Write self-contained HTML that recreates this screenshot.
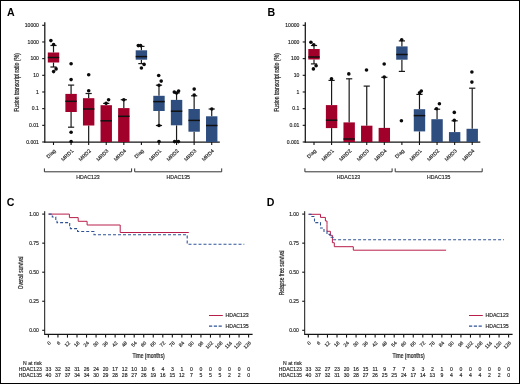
<!DOCTYPE html>
<html><head><meta charset="utf-8"><style>
html,body{margin:0;padding:0;background:#fff;}
svg{display:block;will-change:transform;}
text{fill:#1e1e1e;stroke:#1e1e1e;stroke-width:0.15px;}
text.t{stroke-width:0.22px;}
text.L{fill:#000;stroke:none;}
</style></head><body>
<svg width="520" height="384" viewBox="0 0 520 384" font-family="Liberation Sans, sans-serif" fill="#000">
<rect x="0" y="0" width="520" height="384" fill="#fff"/>
<text x="6.9" y="16.4" class="L" font-size="10.6" font-weight="bold">A</text>
<line x1="44.8" y1="22.2" x2="44.8" y2="142.6" stroke="#141414" stroke-width="1.25"/>
<line x1="42.2" y1="25.3" x2="44.8" y2="25.3" stroke="#141414" stroke-width="1.1"/>
<text x="38.9" y="27.1" font-size="5.1" text-anchor="end" fill="#222">10000</text>
<line x1="42.2" y1="41.97" x2="44.8" y2="41.97" stroke="#141414" stroke-width="1.1"/>
<text x="38.9" y="43.77" font-size="5.1" text-anchor="end" fill="#222">1000</text>
<line x1="42.2" y1="58.64" x2="44.8" y2="58.64" stroke="#141414" stroke-width="1.1"/>
<text x="38.9" y="60.44" font-size="5.1" text-anchor="end" fill="#222">100</text>
<line x1="42.2" y1="75.31" x2="44.8" y2="75.31" stroke="#141414" stroke-width="1.1"/>
<text x="38.9" y="77.11" font-size="5.1" text-anchor="end" fill="#222">10</text>
<line x1="42.2" y1="91.98" x2="44.8" y2="91.98" stroke="#141414" stroke-width="1.1"/>
<text x="38.9" y="93.78" font-size="5.1" text-anchor="end" fill="#222">1</text>
<line x1="42.2" y1="108.65" x2="44.8" y2="108.65" stroke="#141414" stroke-width="1.1"/>
<text x="38.9" y="110.45" font-size="5.1" text-anchor="end" fill="#222">0.1</text>
<line x1="42.2" y1="125.32" x2="44.8" y2="125.32" stroke="#141414" stroke-width="1.1"/>
<text x="38.9" y="127.12" font-size="5.1" text-anchor="end" fill="#222">0.01</text>
<line x1="42.2" y1="141.99" x2="44.8" y2="141.99" stroke="#141414" stroke-width="1.1"/>
<text x="38.9" y="143.79" font-size="5.1" text-anchor="end" fill="#222">0.001</text>
<line x1="44.2" y1="142" x2="219.8" y2="142" stroke="#141414" stroke-width="1.25"/>
<line x1="53.5" y1="142" x2="53.5" y2="145" stroke="#141414" stroke-width="1.1"/>
<text transform="translate(56.1,151.2) rotate(-45)" font-size="5.2" text-anchor="end" fill="#222">Diag</text>
<line x1="71.08" y1="142" x2="71.08" y2="145" stroke="#141414" stroke-width="1.1"/>
<text transform="translate(73.68,151.2) rotate(-45)" font-size="5.2" text-anchor="end" fill="#222">MRD1</text>
<line x1="88.66" y1="142" x2="88.66" y2="145" stroke="#141414" stroke-width="1.1"/>
<text transform="translate(91.26,151.2) rotate(-45)" font-size="5.2" text-anchor="end" fill="#222">MRD2</text>
<line x1="106.24" y1="142" x2="106.24" y2="145" stroke="#141414" stroke-width="1.1"/>
<text transform="translate(108.84,151.2) rotate(-45)" font-size="5.2" text-anchor="end" fill="#222">MRD3</text>
<line x1="123.82" y1="142" x2="123.82" y2="145" stroke="#141414" stroke-width="1.1"/>
<text transform="translate(126.42,151.2) rotate(-45)" font-size="5.2" text-anchor="end" fill="#222">MRD4</text>
<line x1="141.4" y1="142" x2="141.4" y2="145" stroke="#141414" stroke-width="1.1"/>
<text transform="translate(144,151.2) rotate(-45)" font-size="5.2" text-anchor="end" fill="#222">Diag</text>
<line x1="158.98" y1="142" x2="158.98" y2="145" stroke="#141414" stroke-width="1.1"/>
<text transform="translate(161.58,151.2) rotate(-45)" font-size="5.2" text-anchor="end" fill="#222">MRD1</text>
<line x1="176.56" y1="142" x2="176.56" y2="145" stroke="#141414" stroke-width="1.1"/>
<text transform="translate(179.16,151.2) rotate(-45)" font-size="5.2" text-anchor="end" fill="#222">MRD2</text>
<line x1="194.14" y1="142" x2="194.14" y2="145" stroke="#141414" stroke-width="1.1"/>
<text transform="translate(196.74,151.2) rotate(-45)" font-size="5.2" text-anchor="end" fill="#222">MRD3</text>
<line x1="211.72" y1="142" x2="211.72" y2="145" stroke="#141414" stroke-width="1.1"/>
<text transform="translate(214.32,151.2) rotate(-45)" font-size="5.2" text-anchor="end" fill="#222">MRD4</text>
<path d="M44.4,168.4 V171.8 H131.6 V168.4" fill="none" stroke="#333" stroke-width="1"/>
<text x="88" y="179.2" font-size="5.2" text-anchor="middle" fill="#222">HDAC123</text>
<path d="M134.7,168.4 V171.8 H221.7 V168.4" fill="none" stroke="#333" stroke-width="1"/>
<text x="178.3" y="179.2" font-size="5.2" text-anchor="middle" fill="#222">HDAC135</text>
<text transform="translate(18.9,82.5) rotate(-90) scale(0.733,1)" font-size="7" text-anchor="middle" class="t">Fusion transcript ratio (%)</text>
<line x1="53.5" y1="45.5" x2="53.5" y2="52.5" stroke="#1a1a1a" stroke-width="1.2"/>
<line x1="50.4" y1="45.5" x2="56.6" y2="45.5" stroke="#1a1a1a" stroke-width="1.2"/>
<line x1="53.5" y1="62.5" x2="53.5" y2="67" stroke="#1a1a1a" stroke-width="1.2"/>
<line x1="50.4" y1="67" x2="56.6" y2="67" stroke="#1a1a1a" stroke-width="1.2"/>
<rect x="47.8" y="52.5" width="11.4" height="10" fill="#a1002a"/>
<line x1="47.8" y1="57.5" x2="59.2" y2="57.5" stroke="#111" stroke-width="1.5"/>
<circle cx="50.9" cy="40.6" r="1.8" fill="#0a0a0a"/>
<circle cx="53.6" cy="44.5" r="1.8" fill="#0a0a0a"/>
<circle cx="56.1" cy="68.9" r="1.8" fill="#0a0a0a"/>
<circle cx="53.6" cy="71.6" r="1.8" fill="#0a0a0a"/>
<line x1="71.08" y1="85.1" x2="71.08" y2="93.9" stroke="#1a1a1a" stroke-width="1.2"/>
<line x1="67.98" y1="85.1" x2="74.18" y2="85.1" stroke="#1a1a1a" stroke-width="1.2"/>
<line x1="71.08" y1="112" x2="71.08" y2="127.2" stroke="#1a1a1a" stroke-width="1.2"/>
<line x1="67.98" y1="127.2" x2="74.18" y2="127.2" stroke="#1a1a1a" stroke-width="1.2"/>
<rect x="65.38" y="93.9" width="11.4" height="18.1" fill="#a1002a"/>
<line x1="65.38" y1="101.3" x2="76.78" y2="101.3" stroke="#111" stroke-width="1.5"/>
<circle cx="71.1" cy="63.8" r="1.8" fill="#0a0a0a"/>
<circle cx="71.1" cy="79.6" r="1.8" fill="#0a0a0a"/>
<circle cx="71.1" cy="132.3" r="1.8" fill="#0a0a0a"/>
<circle cx="71.1" cy="141.5" r="1.8" fill="#0a0a0a"/>
<line x1="88.66" y1="93.5" x2="88.66" y2="98.2" stroke="#1a1a1a" stroke-width="1.2"/>
<line x1="85.56" y1="93.5" x2="91.76" y2="93.5" stroke="#1a1a1a" stroke-width="1.2"/>
<line x1="88.66" y1="125.5" x2="88.66" y2="142" stroke="#1a1a1a" stroke-width="1.2"/>
<rect x="82.96" y="98.2" width="11.4" height="27.3" fill="#a1002a"/>
<line x1="82.96" y1="109" x2="94.36" y2="109" stroke="#111" stroke-width="1.5"/>
<circle cx="88.7" cy="74.7" r="1.8" fill="#0a0a0a"/>
<circle cx="88.7" cy="90.8" r="1.8" fill="#0a0a0a"/>
<line x1="106.24" y1="103.4" x2="106.24" y2="105.2" stroke="#1a1a1a" stroke-width="1.2"/>
<line x1="103.14" y1="103.4" x2="109.34" y2="103.4" stroke="#1a1a1a" stroke-width="1.2"/>
<rect x="100.54" y="105.2" width="11.4" height="36.8" fill="#a1002a"/>
<line x1="100.54" y1="120.8" x2="111.94" y2="120.8" stroke="#111" stroke-width="1.5"/>
<circle cx="108.6" cy="99.7" r="1.8" fill="#0a0a0a"/>
<circle cx="106.1" cy="103.2" r="1.8" fill="#0a0a0a"/>
<line x1="123.82" y1="99.7" x2="123.82" y2="108.1" stroke="#1a1a1a" stroke-width="1.2"/>
<line x1="120.72" y1="99.7" x2="126.92" y2="99.7" stroke="#1a1a1a" stroke-width="1.2"/>
<rect x="118.12" y="108.1" width="11.4" height="33.9" fill="#a1002a"/>
<line x1="118.12" y1="116.3" x2="129.52" y2="116.3" stroke="#111" stroke-width="1.5"/>
<circle cx="123.8" cy="99.7" r="1.8" fill="#0a0a0a"/>
<line x1="141.4" y1="46.4" x2="141.4" y2="50.3" stroke="#1a1a1a" stroke-width="1.2"/>
<line x1="138.3" y1="46.4" x2="144.5" y2="46.4" stroke="#1a1a1a" stroke-width="1.2"/>
<line x1="141.4" y1="59.7" x2="141.4" y2="63.6" stroke="#1a1a1a" stroke-width="1.2"/>
<line x1="138.3" y1="63.6" x2="144.5" y2="63.6" stroke="#1a1a1a" stroke-width="1.2"/>
<rect x="135.7" y="50.3" width="11.4" height="9.4" fill="#2e4e7f"/>
<line x1="135.7" y1="56.6" x2="147.1" y2="56.6" stroke="#111" stroke-width="1.5"/>
<circle cx="138.3" cy="45.6" r="1.8" fill="#0a0a0a"/>
<circle cx="140.6" cy="45.6" r="1.8" fill="#0a0a0a"/>
<circle cx="144.1" cy="64.4" r="1.8" fill="#0a0a0a"/>
<circle cx="141.4" cy="68" r="1.8" fill="#0a0a0a"/>
<line x1="158.98" y1="85.2" x2="158.98" y2="95.8" stroke="#1a1a1a" stroke-width="1.2"/>
<line x1="155.88" y1="85.2" x2="162.08" y2="85.2" stroke="#1a1a1a" stroke-width="1.2"/>
<line x1="158.98" y1="111" x2="158.98" y2="125.5" stroke="#1a1a1a" stroke-width="1.2"/>
<line x1="155.88" y1="125.5" x2="162.08" y2="125.5" stroke="#1a1a1a" stroke-width="1.2"/>
<rect x="153.28" y="95.8" width="11.4" height="15.2" fill="#2e4e7f"/>
<line x1="153.28" y1="101.6" x2="164.68" y2="101.6" stroke="#111" stroke-width="1.5"/>
<circle cx="158.7" cy="75.5" r="1.8" fill="#0a0a0a"/>
<circle cx="161.2" cy="81.1" r="1.8" fill="#0a0a0a"/>
<circle cx="159" cy="85.2" r="1.8" fill="#0a0a0a"/>
<circle cx="159" cy="125.5" r="1.8" fill="#0a0a0a"/>
<circle cx="159" cy="141.6" r="1.8" fill="#0a0a0a"/>
<line x1="176.56" y1="93" x2="176.56" y2="99.9" stroke="#1a1a1a" stroke-width="1.2"/>
<line x1="173.46" y1="93" x2="179.66" y2="93" stroke="#1a1a1a" stroke-width="1.2"/>
<line x1="176.56" y1="125.3" x2="176.56" y2="142" stroke="#1a1a1a" stroke-width="1.2"/>
<rect x="170.86" y="99.9" width="11.4" height="25.4" fill="#2e4e7f"/>
<line x1="170.86" y1="111.2" x2="182.26" y2="111.2" stroke="#111" stroke-width="1.5"/>
<circle cx="174.3" cy="92" r="1.8" fill="#0a0a0a"/>
<circle cx="178.6" cy="91.1" r="1.8" fill="#0a0a0a"/>
<circle cx="176.6" cy="93" r="1.8" fill="#0a0a0a"/>
<circle cx="174.6" cy="141.6" r="1.8" fill="#0a0a0a"/>
<circle cx="178.4" cy="141.6" r="1.8" fill="#0a0a0a"/>
<line x1="194.14" y1="95.8" x2="194.14" y2="109" stroke="#1a1a1a" stroke-width="1.2"/>
<line x1="191.04" y1="95.8" x2="197.24" y2="95.8" stroke="#1a1a1a" stroke-width="1.2"/>
<line x1="194.14" y1="131.7" x2="194.14" y2="142" stroke="#1a1a1a" stroke-width="1.2"/>
<rect x="188.44" y="109" width="11.4" height="22.7" fill="#2e4e7f"/>
<line x1="188.44" y1="120.4" x2="199.84" y2="120.4" stroke="#111" stroke-width="1.5"/>
<circle cx="194.2" cy="89.1" r="1.8" fill="#0a0a0a"/>
<circle cx="194.2" cy="95" r="1.8" fill="#0a0a0a"/>
<line x1="211.72" y1="109" x2="211.72" y2="116.3" stroke="#1a1a1a" stroke-width="1.2"/>
<line x1="208.62" y1="109" x2="214.82" y2="109" stroke="#1a1a1a" stroke-width="1.2"/>
<rect x="206.02" y="116.3" width="11.4" height="25.7" fill="#2e4e7f"/>
<line x1="206.02" y1="125.5" x2="217.42" y2="125.5" stroke="#111" stroke-width="1.5"/>
<circle cx="211.8" cy="109" r="1.8" fill="#0a0a0a"/>
<text x="267.4" y="16.4" class="L" font-size="10.6" font-weight="bold">B</text>
<line x1="305.3" y1="22.2" x2="305.3" y2="142.6" stroke="#141414" stroke-width="1.25"/>
<line x1="302.7" y1="25.3" x2="305.3" y2="25.3" stroke="#141414" stroke-width="1.1"/>
<text x="299.4" y="27.1" font-size="5.1" text-anchor="end" fill="#222">10000</text>
<line x1="302.7" y1="41.97" x2="305.3" y2="41.97" stroke="#141414" stroke-width="1.1"/>
<text x="299.4" y="43.77" font-size="5.1" text-anchor="end" fill="#222">1000</text>
<line x1="302.7" y1="58.64" x2="305.3" y2="58.64" stroke="#141414" stroke-width="1.1"/>
<text x="299.4" y="60.44" font-size="5.1" text-anchor="end" fill="#222">100</text>
<line x1="302.7" y1="75.31" x2="305.3" y2="75.31" stroke="#141414" stroke-width="1.1"/>
<text x="299.4" y="77.11" font-size="5.1" text-anchor="end" fill="#222">10</text>
<line x1="302.7" y1="91.98" x2="305.3" y2="91.98" stroke="#141414" stroke-width="1.1"/>
<text x="299.4" y="93.78" font-size="5.1" text-anchor="end" fill="#222">1</text>
<line x1="302.7" y1="108.65" x2="305.3" y2="108.65" stroke="#141414" stroke-width="1.1"/>
<text x="299.4" y="110.45" font-size="5.1" text-anchor="end" fill="#222">0.1</text>
<line x1="302.7" y1="125.32" x2="305.3" y2="125.32" stroke="#141414" stroke-width="1.1"/>
<text x="299.4" y="127.12" font-size="5.1" text-anchor="end" fill="#222">0.01</text>
<line x1="302.7" y1="141.99" x2="305.3" y2="141.99" stroke="#141414" stroke-width="1.1"/>
<text x="299.4" y="143.79" font-size="5.1" text-anchor="end" fill="#222">0.001</text>
<line x1="304.7" y1="142" x2="480.3" y2="142" stroke="#141414" stroke-width="1.25"/>
<line x1="314" y1="142" x2="314" y2="145" stroke="#141414" stroke-width="1.1"/>
<text transform="translate(316.6,151.2) rotate(-45)" font-size="5.2" text-anchor="end" fill="#222">Diag</text>
<line x1="331.58" y1="142" x2="331.58" y2="145" stroke="#141414" stroke-width="1.1"/>
<text transform="translate(334.18,151.2) rotate(-45)" font-size="5.2" text-anchor="end" fill="#222">MRD1</text>
<line x1="349.16" y1="142" x2="349.16" y2="145" stroke="#141414" stroke-width="1.1"/>
<text transform="translate(351.76,151.2) rotate(-45)" font-size="5.2" text-anchor="end" fill="#222">MRD2</text>
<line x1="366.74" y1="142" x2="366.74" y2="145" stroke="#141414" stroke-width="1.1"/>
<text transform="translate(369.34,151.2) rotate(-45)" font-size="5.2" text-anchor="end" fill="#222">MRD3</text>
<line x1="384.32" y1="142" x2="384.32" y2="145" stroke="#141414" stroke-width="1.1"/>
<text transform="translate(386.92,151.2) rotate(-45)" font-size="5.2" text-anchor="end" fill="#222">MRD4</text>
<line x1="401.9" y1="142" x2="401.9" y2="145" stroke="#141414" stroke-width="1.1"/>
<text transform="translate(404.5,151.2) rotate(-45)" font-size="5.2" text-anchor="end" fill="#222">Diag</text>
<line x1="419.48" y1="142" x2="419.48" y2="145" stroke="#141414" stroke-width="1.1"/>
<text transform="translate(422.08,151.2) rotate(-45)" font-size="5.2" text-anchor="end" fill="#222">MRD1</text>
<line x1="437.06" y1="142" x2="437.06" y2="145" stroke="#141414" stroke-width="1.1"/>
<text transform="translate(439.66,151.2) rotate(-45)" font-size="5.2" text-anchor="end" fill="#222">MRD2</text>
<line x1="454.64" y1="142" x2="454.64" y2="145" stroke="#141414" stroke-width="1.1"/>
<text transform="translate(457.24,151.2) rotate(-45)" font-size="5.2" text-anchor="end" fill="#222">MRD3</text>
<line x1="472.22" y1="142" x2="472.22" y2="145" stroke="#141414" stroke-width="1.1"/>
<text transform="translate(474.82,151.2) rotate(-45)" font-size="5.2" text-anchor="end" fill="#222">MRD4</text>
<path d="M304.9,168.4 V171.8 H392.1 V168.4" fill="none" stroke="#333" stroke-width="1"/>
<text x="348.5" y="179.2" font-size="5.2" text-anchor="middle" fill="#222">HDAC123</text>
<path d="M395.2,168.4 V171.8 H482.2 V168.4" fill="none" stroke="#333" stroke-width="1"/>
<text x="438.8" y="179.2" font-size="5.2" text-anchor="middle" fill="#222">HDAC135</text>
<text transform="translate(279.4,82.5) rotate(-90) scale(0.733,1)" font-size="7" text-anchor="middle" class="t">Fusion transcript ratio (%)</text>
<line x1="314" y1="45.5" x2="314" y2="49" stroke="#1a1a1a" stroke-width="1.2"/>
<line x1="310.9" y1="45.5" x2="317.1" y2="45.5" stroke="#1a1a1a" stroke-width="1.2"/>
<line x1="314" y1="59.5" x2="314" y2="63.9" stroke="#1a1a1a" stroke-width="1.2"/>
<line x1="310.9" y1="63.9" x2="317.1" y2="63.9" stroke="#1a1a1a" stroke-width="1.2"/>
<rect x="308.3" y="49" width="11.4" height="10.5" fill="#a1002a"/>
<line x1="308.3" y1="57" x2="319.7" y2="57" stroke="#111" stroke-width="1.5"/>
<circle cx="310.9" cy="42.3" r="1.8" fill="#0a0a0a"/>
<circle cx="313.75" cy="44.7" r="1.8" fill="#0a0a0a"/>
<circle cx="316.1" cy="65.8" r="1.8" fill="#0a0a0a"/>
<circle cx="313.4" cy="68.9" r="1.8" fill="#0a0a0a"/>
<line x1="331.58" y1="80.4" x2="331.58" y2="105.1" stroke="#1a1a1a" stroke-width="1.2"/>
<line x1="328.48" y1="80.4" x2="334.68" y2="80.4" stroke="#1a1a1a" stroke-width="1.2"/>
<line x1="331.58" y1="128.1" x2="331.58" y2="142" stroke="#1a1a1a" stroke-width="1.2"/>
<rect x="325.88" y="105.1" width="11.4" height="23" fill="#a1002a"/>
<line x1="325.88" y1="120.2" x2="337.28" y2="120.2" stroke="#111" stroke-width="1.5"/>
<circle cx="331.5" cy="78.8" r="1.8" fill="#0a0a0a"/>
<line x1="349.16" y1="78.8" x2="349.16" y2="122.4" stroke="#1a1a1a" stroke-width="1.2"/>
<line x1="346.06" y1="78.8" x2="352.26" y2="78.8" stroke="#1a1a1a" stroke-width="1.2"/>
<rect x="343.46" y="122.4" width="11.4" height="19.6" fill="#a1002a"/>
<line x1="343.46" y1="139" x2="354.86" y2="139" stroke="#111" stroke-width="1.5"/>
<circle cx="348.8" cy="73.9" r="1.8" fill="#0a0a0a"/>
<line x1="366.74" y1="86.1" x2="366.74" y2="125.7" stroke="#1a1a1a" stroke-width="1.2"/>
<line x1="363.64" y1="86.1" x2="369.84" y2="86.1" stroke="#1a1a1a" stroke-width="1.2"/>
<rect x="361.04" y="125.7" width="11.4" height="16.3" fill="#a1002a"/>
<circle cx="366.5" cy="70" r="1.8" fill="#0a0a0a"/>
<line x1="384.32" y1="77.3" x2="384.32" y2="127.9" stroke="#1a1a1a" stroke-width="1.2"/>
<line x1="381.22" y1="77.3" x2="387.42" y2="77.3" stroke="#1a1a1a" stroke-width="1.2"/>
<rect x="378.62" y="127.9" width="11.4" height="14.1" fill="#a1002a"/>
<circle cx="384.2" cy="64" r="1.8" fill="#0a0a0a"/>
<circle cx="384.2" cy="77" r="1.8" fill="#0a0a0a"/>
<line x1="401.9" y1="40.9" x2="401.9" y2="46.4" stroke="#1a1a1a" stroke-width="1.2"/>
<line x1="398.8" y1="40.9" x2="405" y2="40.9" stroke="#1a1a1a" stroke-width="1.2"/>
<line x1="401.9" y1="59.7" x2="401.9" y2="71.4" stroke="#1a1a1a" stroke-width="1.2"/>
<line x1="398.8" y1="71.4" x2="405" y2="71.4" stroke="#1a1a1a" stroke-width="1.2"/>
<rect x="396.2" y="46.4" width="11.4" height="13.3" fill="#2e4e7f"/>
<line x1="396.2" y1="54.5" x2="407.6" y2="54.5" stroke="#111" stroke-width="1.5"/>
<circle cx="401.7" cy="39.7" r="1.8" fill="#0a0a0a"/>
<circle cx="401.4" cy="120.7" r="1.8" fill="#0a0a0a"/>
<line x1="419.48" y1="94.4" x2="419.48" y2="109.2" stroke="#1a1a1a" stroke-width="1.2"/>
<line x1="416.38" y1="94.4" x2="422.58" y2="94.4" stroke="#1a1a1a" stroke-width="1.2"/>
<line x1="419.48" y1="131.4" x2="419.48" y2="142" stroke="#1a1a1a" stroke-width="1.2"/>
<rect x="413.78" y="109.2" width="11.4" height="22.2" fill="#2e4e7f"/>
<line x1="413.78" y1="115.6" x2="425.18" y2="115.6" stroke="#111" stroke-width="1.5"/>
<circle cx="419.6" cy="92.7" r="1.8" fill="#0a0a0a"/>
<circle cx="421.3" cy="91" r="1.8" fill="#0a0a0a"/>
<line x1="437.06" y1="109.2" x2="437.06" y2="119.2" stroke="#1a1a1a" stroke-width="1.2"/>
<line x1="433.96" y1="109.2" x2="440.16" y2="109.2" stroke="#1a1a1a" stroke-width="1.2"/>
<rect x="431.36" y="119.2" width="11.4" height="22.8" fill="#2e4e7f"/>
<circle cx="439.4" cy="103.7" r="1.8" fill="#0a0a0a"/>
<circle cx="436.5" cy="108.8" r="1.8" fill="#0a0a0a"/>
<line x1="454.64" y1="120.8" x2="454.64" y2="132.1" stroke="#1a1a1a" stroke-width="1.2"/>
<line x1="451.54" y1="120.8" x2="457.74" y2="120.8" stroke="#1a1a1a" stroke-width="1.2"/>
<rect x="448.94" y="132.1" width="11.4" height="9.9" fill="#2e4e7f"/>
<circle cx="454.3" cy="112.4" r="1.8" fill="#0a0a0a"/>
<circle cx="454.3" cy="120.2" r="1.8" fill="#0a0a0a"/>
<line x1="472.22" y1="88.2" x2="472.22" y2="128.8" stroke="#1a1a1a" stroke-width="1.2"/>
<line x1="469.12" y1="88.2" x2="475.32" y2="88.2" stroke="#1a1a1a" stroke-width="1.2"/>
<rect x="466.52" y="128.8" width="11.4" height="13.2" fill="#2e4e7f"/>
<circle cx="471.9" cy="72" r="1.8" fill="#0a0a0a"/>
<circle cx="471.9" cy="82.1" r="1.8" fill="#0a0a0a"/>
<text x="6.7" y="205.6" class="L" font-size="10.6" font-weight="bold">C</text>
<line x1="44.7" y1="211.2" x2="44.7" y2="334.5" stroke="#141414" stroke-width="1"/>
<line x1="42.2" y1="214.1" x2="44.7" y2="214.1" stroke="#141414" stroke-width="1.1"/>
<text x="38.9" y="215.9" font-size="5" text-anchor="end" fill="#222">1.00</text>
<line x1="42.2" y1="243.15" x2="44.7" y2="243.15" stroke="#141414" stroke-width="1.1"/>
<text x="38.9" y="244.95" font-size="5" text-anchor="end" fill="#222">0.75</text>
<line x1="42.2" y1="272.2" x2="44.7" y2="272.2" stroke="#141414" stroke-width="1.1"/>
<text x="38.9" y="274" font-size="5" text-anchor="end" fill="#222">0.50</text>
<line x1="42.2" y1="301.25" x2="44.7" y2="301.25" stroke="#141414" stroke-width="1.1"/>
<text x="38.9" y="303.05" font-size="5" text-anchor="end" fill="#222">0.25</text>
<line x1="42.2" y1="330.3" x2="44.7" y2="330.3" stroke="#141414" stroke-width="1.1"/>
<text x="38.9" y="332.1" font-size="5" text-anchor="end" fill="#222">0.00</text>
<line x1="44.2" y1="334.35" x2="252.6" y2="334.35" stroke="#141414" stroke-width="1.15"/>
<line x1="48.4" y1="334.1" x2="48.4" y2="337.6" stroke="#141414" stroke-width="1.1"/>
<text transform="translate(51.3,343.4) rotate(-45)" font-size="5" text-anchor="end" fill="#222">0</text>
<text x="48.4" y="371.4" font-size="5.1" text-anchor="middle" fill="#222">33</text>
<text x="48.4" y="377.3" font-size="5.1" text-anchor="middle" fill="#222">40</text>
<line x1="57.93" y1="334.1" x2="57.93" y2="337.6" stroke="#141414" stroke-width="1.1"/>
<text transform="translate(60.83,343.4) rotate(-45)" font-size="5" text-anchor="end" fill="#222">6</text>
<text x="57.93" y="371.4" font-size="5.1" text-anchor="middle" fill="#222">32</text>
<text x="57.93" y="377.3" font-size="5.1" text-anchor="middle" fill="#222">37</text>
<line x1="67.47" y1="334.1" x2="67.47" y2="337.6" stroke="#141414" stroke-width="1.1"/>
<text transform="translate(70.37,343.4) rotate(-45)" font-size="5" text-anchor="end" fill="#222">12</text>
<text x="67.47" y="371.4" font-size="5.1" text-anchor="middle" fill="#222">32</text>
<text x="67.47" y="377.3" font-size="5.1" text-anchor="middle" fill="#222">37</text>
<line x1="77" y1="334.1" x2="77" y2="337.6" stroke="#141414" stroke-width="1.1"/>
<text transform="translate(79.9,343.4) rotate(-45)" font-size="5" text-anchor="end" fill="#222">18</text>
<text x="77" y="371.4" font-size="5.1" text-anchor="middle" fill="#222">31</text>
<text x="77" y="377.3" font-size="5.1" text-anchor="middle" fill="#222">34</text>
<line x1="86.53" y1="334.1" x2="86.53" y2="337.6" stroke="#141414" stroke-width="1.1"/>
<text transform="translate(89.43,343.4) rotate(-45)" font-size="5" text-anchor="end" fill="#222">24</text>
<text x="86.53" y="371.4" font-size="5.1" text-anchor="middle" fill="#222">26</text>
<text x="86.53" y="377.3" font-size="5.1" text-anchor="middle" fill="#222">34</text>
<line x1="96.06" y1="334.1" x2="96.06" y2="337.6" stroke="#141414" stroke-width="1.1"/>
<text transform="translate(98.97,343.4) rotate(-45)" font-size="5" text-anchor="end" fill="#222">30</text>
<text x="96.06" y="371.4" font-size="5.1" text-anchor="middle" fill="#222">24</text>
<text x="96.06" y="377.3" font-size="5.1" text-anchor="middle" fill="#222">30</text>
<line x1="105.6" y1="334.1" x2="105.6" y2="337.6" stroke="#141414" stroke-width="1.1"/>
<text transform="translate(108.5,343.4) rotate(-45)" font-size="5" text-anchor="end" fill="#222">36</text>
<text x="105.6" y="371.4" font-size="5.1" text-anchor="middle" fill="#222">20</text>
<text x="105.6" y="377.3" font-size="5.1" text-anchor="middle" fill="#222">29</text>
<line x1="115.13" y1="334.1" x2="115.13" y2="337.6" stroke="#141414" stroke-width="1.1"/>
<text transform="translate(118.03,343.4) rotate(-45)" font-size="5" text-anchor="end" fill="#222">42</text>
<text x="115.13" y="371.4" font-size="5.1" text-anchor="middle" fill="#222">17</text>
<text x="115.13" y="377.3" font-size="5.1" text-anchor="middle" fill="#222">28</text>
<line x1="124.66" y1="334.1" x2="124.66" y2="337.6" stroke="#141414" stroke-width="1.1"/>
<text transform="translate(127.56,343.4) rotate(-45)" font-size="5" text-anchor="end" fill="#222">48</text>
<text x="124.66" y="371.4" font-size="5.1" text-anchor="middle" fill="#222">12</text>
<text x="124.66" y="377.3" font-size="5.1" text-anchor="middle" fill="#222">28</text>
<line x1="134.2" y1="334.1" x2="134.2" y2="337.6" stroke="#141414" stroke-width="1.1"/>
<text transform="translate(137.1,343.4) rotate(-45)" font-size="5" text-anchor="end" fill="#222">54</text>
<text x="134.2" y="371.4" font-size="5.1" text-anchor="middle" fill="#222">10</text>
<text x="134.2" y="377.3" font-size="5.1" text-anchor="middle" fill="#222">27</text>
<line x1="143.73" y1="334.1" x2="143.73" y2="337.6" stroke="#141414" stroke-width="1.1"/>
<text transform="translate(146.63,343.4) rotate(-45)" font-size="5" text-anchor="end" fill="#222">60</text>
<text x="143.73" y="371.4" font-size="5.1" text-anchor="middle" fill="#222">10</text>
<text x="143.73" y="377.3" font-size="5.1" text-anchor="middle" fill="#222">26</text>
<line x1="153.26" y1="334.1" x2="153.26" y2="337.6" stroke="#141414" stroke-width="1.1"/>
<text transform="translate(156.16,343.4) rotate(-45)" font-size="5" text-anchor="end" fill="#222">66</text>
<text x="153.26" y="371.4" font-size="5.1" text-anchor="middle" fill="#222">6</text>
<text x="153.26" y="377.3" font-size="5.1" text-anchor="middle" fill="#222">19</text>
<line x1="162.8" y1="334.1" x2="162.8" y2="337.6" stroke="#141414" stroke-width="1.1"/>
<text transform="translate(165.7,343.4) rotate(-45)" font-size="5" text-anchor="end" fill="#222">72</text>
<text x="162.8" y="371.4" font-size="5.1" text-anchor="middle" fill="#222">4</text>
<text x="162.8" y="377.3" font-size="5.1" text-anchor="middle" fill="#222">16</text>
<line x1="172.33" y1="334.1" x2="172.33" y2="337.6" stroke="#141414" stroke-width="1.1"/>
<text transform="translate(175.23,343.4) rotate(-45)" font-size="5" text-anchor="end" fill="#222">78</text>
<text x="172.33" y="371.4" font-size="5.1" text-anchor="middle" fill="#222">3</text>
<text x="172.33" y="377.3" font-size="5.1" text-anchor="middle" fill="#222">15</text>
<line x1="181.86" y1="334.1" x2="181.86" y2="337.6" stroke="#141414" stroke-width="1.1"/>
<text transform="translate(184.76,343.4) rotate(-45)" font-size="5" text-anchor="end" fill="#222">84</text>
<text x="181.86" y="371.4" font-size="5.1" text-anchor="middle" fill="#222">1</text>
<text x="181.86" y="377.3" font-size="5.1" text-anchor="middle" fill="#222">12</text>
<line x1="191.4" y1="334.1" x2="191.4" y2="337.6" stroke="#141414" stroke-width="1.1"/>
<text transform="translate(194.3,343.4) rotate(-45)" font-size="5" text-anchor="end" fill="#222">90</text>
<text x="191.4" y="371.4" font-size="5.1" text-anchor="middle" fill="#222">0</text>
<text x="191.4" y="377.3" font-size="5.1" text-anchor="middle" fill="#222">7</text>
<line x1="200.93" y1="334.1" x2="200.93" y2="337.6" stroke="#141414" stroke-width="1.1"/>
<text transform="translate(203.83,343.4) rotate(-45)" font-size="5" text-anchor="end" fill="#222">96</text>
<text x="200.93" y="371.4" font-size="5.1" text-anchor="middle" fill="#222">0</text>
<text x="200.93" y="377.3" font-size="5.1" text-anchor="middle" fill="#222">5</text>
<line x1="210.46" y1="334.1" x2="210.46" y2="337.6" stroke="#141414" stroke-width="1.1"/>
<text transform="translate(213.36,343.4) rotate(-45)" font-size="5" text-anchor="end" fill="#222">102</text>
<text x="210.46" y="371.4" font-size="5.1" text-anchor="middle" fill="#222">0</text>
<text x="210.46" y="377.3" font-size="5.1" text-anchor="middle" fill="#222">5</text>
<line x1="219.99" y1="334.1" x2="219.99" y2="337.6" stroke="#141414" stroke-width="1.1"/>
<text transform="translate(222.89,343.4) rotate(-45)" font-size="5" text-anchor="end" fill="#222">108</text>
<text x="219.99" y="371.4" font-size="5.1" text-anchor="middle" fill="#222">0</text>
<text x="219.99" y="377.3" font-size="5.1" text-anchor="middle" fill="#222">5</text>
<line x1="229.53" y1="334.1" x2="229.53" y2="337.6" stroke="#141414" stroke-width="1.1"/>
<text transform="translate(232.43,343.4) rotate(-45)" font-size="5" text-anchor="end" fill="#222">114</text>
<text x="229.53" y="371.4" font-size="5.1" text-anchor="middle" fill="#222">0</text>
<text x="229.53" y="377.3" font-size="5.1" text-anchor="middle" fill="#222">2</text>
<line x1="239.06" y1="334.1" x2="239.06" y2="337.6" stroke="#141414" stroke-width="1.1"/>
<text transform="translate(241.96,343.4) rotate(-45)" font-size="5" text-anchor="end" fill="#222">120</text>
<text x="239.06" y="371.4" font-size="5.1" text-anchor="middle" fill="#222">0</text>
<text x="239.06" y="377.3" font-size="5.1" text-anchor="middle" fill="#222">2</text>
<line x1="248.59" y1="334.1" x2="248.59" y2="337.6" stroke="#141414" stroke-width="1.1"/>
<text transform="translate(251.49,343.4) rotate(-45)" font-size="5" text-anchor="end" fill="#222">126</text>
<text x="248.59" y="371.4" font-size="5.1" text-anchor="middle" fill="#222">0</text>
<text x="248.59" y="377.3" font-size="5.1" text-anchor="middle" fill="#222">0</text>
<text x="41.8" y="365.0" font-size="5.1" text-anchor="end" fill="#222">N at risk</text>
<text x="41.8" y="371.4" font-size="5.1" text-anchor="end" fill="#222">HDAC123</text>
<text x="41.8" y="377.3" font-size="5.1" text-anchor="end" fill="#222">HDAC135</text>
<text transform="translate(148.55,357.8) scale(0.72,1)" font-size="6.95" text-anchor="middle" class="t">Time (months)</text>
<text transform="translate(23.4,272.8) rotate(-90) scale(0.70,1)" font-size="6.9" text-anchor="middle" class="t">Overall survival</text>
<line x1="209" y1="315.5" x2="222.8" y2="315.5" stroke="#b81e4a" stroke-width="1"/>
<line x1="209" y1="326.2" x2="222.8" y2="326.2" stroke="#2f5496" stroke-width="1.3" stroke-dasharray="3.2 1.6"/>
<text x="225.4" y="317.3" font-size="5.2" fill="#222">HDAC123</text>
<text x="225.4" y="327.8" font-size="5.2" fill="#222">HDAC135</text>
<path d="M48.6,214.1 L69.4,214.1 L69.4,217.6 L78.2,217.6 L78.2,221.3 L87.1,221.3 L87.1,225 L120.2,225 L120.2,232.5 L188.8,232.5" fill="none" stroke="#b81e4a" stroke-width="1"/>
<path d="M48.6,214.1 L52.3,214.1 L52.3,217 L55.8,217 L55.8,220 L57,220 L57,222.6 L69.7,222.6 L69.7,225.7 L70.4,225.7 L70.4,228.6 L77.6,228.6 L77.6,231.5 L94,231.5 L94,234.7 L187.2,234.7 L187.2,244.2 L244.3,244.2" fill="none" stroke="#2f5496" stroke-width="1.1" stroke-dasharray="3 2"/>
<text x="266.7" y="205.6" class="L" font-size="10.6" font-weight="bold">D</text>
<line x1="304.7" y1="211.2" x2="304.7" y2="334.5" stroke="#141414" stroke-width="1"/>
<line x1="302.2" y1="214.1" x2="304.7" y2="214.1" stroke="#141414" stroke-width="1.1"/>
<text x="298.9" y="215.9" font-size="5" text-anchor="end" fill="#222">1.00</text>
<line x1="302.2" y1="243.15" x2="304.7" y2="243.15" stroke="#141414" stroke-width="1.1"/>
<text x="298.9" y="244.95" font-size="5" text-anchor="end" fill="#222">0.75</text>
<line x1="302.2" y1="272.2" x2="304.7" y2="272.2" stroke="#141414" stroke-width="1.1"/>
<text x="298.9" y="274" font-size="5" text-anchor="end" fill="#222">0.50</text>
<line x1="302.2" y1="301.25" x2="304.7" y2="301.25" stroke="#141414" stroke-width="1.1"/>
<text x="298.9" y="303.05" font-size="5" text-anchor="end" fill="#222">0.25</text>
<line x1="302.2" y1="330.3" x2="304.7" y2="330.3" stroke="#141414" stroke-width="1.1"/>
<text x="298.9" y="332.1" font-size="5" text-anchor="end" fill="#222">0.00</text>
<line x1="304.2" y1="334.35" x2="512.6" y2="334.35" stroke="#141414" stroke-width="1.15"/>
<line x1="308.4" y1="334.1" x2="308.4" y2="337.6" stroke="#141414" stroke-width="1.1"/>
<text transform="translate(311.3,343.4) rotate(-45)" font-size="5" text-anchor="end" fill="#222">0</text>
<text x="308.4" y="371.4" font-size="5.1" text-anchor="middle" fill="#222">33</text>
<text x="308.4" y="377.3" font-size="5.1" text-anchor="middle" fill="#222">40</text>
<line x1="317.93" y1="334.1" x2="317.93" y2="337.6" stroke="#141414" stroke-width="1.1"/>
<text transform="translate(320.83,343.4) rotate(-45)" font-size="5" text-anchor="end" fill="#222">6</text>
<text x="317.93" y="371.4" font-size="5.1" text-anchor="middle" fill="#222">32</text>
<text x="317.93" y="377.3" font-size="5.1" text-anchor="middle" fill="#222">37</text>
<line x1="327.47" y1="334.1" x2="327.47" y2="337.6" stroke="#141414" stroke-width="1.1"/>
<text transform="translate(330.37,343.4) rotate(-45)" font-size="5" text-anchor="end" fill="#222">12</text>
<text x="327.47" y="371.4" font-size="5.1" text-anchor="middle" fill="#222">27</text>
<text x="327.47" y="377.3" font-size="5.1" text-anchor="middle" fill="#222">32</text>
<line x1="337" y1="334.1" x2="337" y2="337.6" stroke="#141414" stroke-width="1.1"/>
<text transform="translate(339.9,343.4) rotate(-45)" font-size="5" text-anchor="end" fill="#222">18</text>
<text x="337" y="371.4" font-size="5.1" text-anchor="middle" fill="#222">23</text>
<text x="337" y="377.3" font-size="5.1" text-anchor="middle" fill="#222">31</text>
<line x1="346.53" y1="334.1" x2="346.53" y2="337.6" stroke="#141414" stroke-width="1.1"/>
<text transform="translate(349.43,343.4) rotate(-45)" font-size="5" text-anchor="end" fill="#222">24</text>
<text x="346.53" y="371.4" font-size="5.1" text-anchor="middle" fill="#222">20</text>
<text x="346.53" y="377.3" font-size="5.1" text-anchor="middle" fill="#222">30</text>
<line x1="356.06" y1="334.1" x2="356.06" y2="337.6" stroke="#141414" stroke-width="1.1"/>
<text transform="translate(358.96,343.4) rotate(-45)" font-size="5" text-anchor="end" fill="#222">30</text>
<text x="356.06" y="371.4" font-size="5.1" text-anchor="middle" fill="#222">16</text>
<text x="356.06" y="377.3" font-size="5.1" text-anchor="middle" fill="#222">28</text>
<line x1="365.6" y1="334.1" x2="365.6" y2="337.6" stroke="#141414" stroke-width="1.1"/>
<text transform="translate(368.5,343.4) rotate(-45)" font-size="5" text-anchor="end" fill="#222">36</text>
<text x="365.6" y="371.4" font-size="5.1" text-anchor="middle" fill="#222">15</text>
<text x="365.6" y="377.3" font-size="5.1" text-anchor="middle" fill="#222">27</text>
<line x1="375.13" y1="334.1" x2="375.13" y2="337.6" stroke="#141414" stroke-width="1.1"/>
<text transform="translate(378.03,343.4) rotate(-45)" font-size="5" text-anchor="end" fill="#222">42</text>
<text x="375.13" y="371.4" font-size="5.1" text-anchor="middle" fill="#222">11</text>
<text x="375.13" y="377.3" font-size="5.1" text-anchor="middle" fill="#222">26</text>
<line x1="384.66" y1="334.1" x2="384.66" y2="337.6" stroke="#141414" stroke-width="1.1"/>
<text transform="translate(387.56,343.4) rotate(-45)" font-size="5" text-anchor="end" fill="#222">48</text>
<text x="384.66" y="371.4" font-size="5.1" text-anchor="middle" fill="#222">9</text>
<text x="384.66" y="377.3" font-size="5.1" text-anchor="middle" fill="#222">25</text>
<line x1="394.2" y1="334.1" x2="394.2" y2="337.6" stroke="#141414" stroke-width="1.1"/>
<text transform="translate(397.1,343.4) rotate(-45)" font-size="5" text-anchor="end" fill="#222">54</text>
<text x="394.2" y="371.4" font-size="5.1" text-anchor="middle" fill="#222">7</text>
<text x="394.2" y="377.3" font-size="5.1" text-anchor="middle" fill="#222">25</text>
<line x1="403.73" y1="334.1" x2="403.73" y2="337.6" stroke="#141414" stroke-width="1.1"/>
<text transform="translate(406.63,343.4) rotate(-45)" font-size="5" text-anchor="end" fill="#222">60</text>
<text x="403.73" y="371.4" font-size="5.1" text-anchor="middle" fill="#222">7</text>
<text x="403.73" y="377.3" font-size="5.1" text-anchor="middle" fill="#222">24</text>
<line x1="413.26" y1="334.1" x2="413.26" y2="337.6" stroke="#141414" stroke-width="1.1"/>
<text transform="translate(416.16,343.4) rotate(-45)" font-size="5" text-anchor="end" fill="#222">66</text>
<text x="413.26" y="371.4" font-size="5.1" text-anchor="middle" fill="#222">3</text>
<text x="413.26" y="377.3" font-size="5.1" text-anchor="middle" fill="#222">17</text>
<line x1="422.8" y1="334.1" x2="422.8" y2="337.6" stroke="#141414" stroke-width="1.1"/>
<text transform="translate(425.7,343.4) rotate(-45)" font-size="5" text-anchor="end" fill="#222">72</text>
<text x="422.8" y="371.4" font-size="5.1" text-anchor="middle" fill="#222">3</text>
<text x="422.8" y="377.3" font-size="5.1" text-anchor="middle" fill="#222">14</text>
<line x1="432.33" y1="334.1" x2="432.33" y2="337.6" stroke="#141414" stroke-width="1.1"/>
<text transform="translate(435.23,343.4) rotate(-45)" font-size="5" text-anchor="end" fill="#222">78</text>
<text x="432.33" y="371.4" font-size="5.1" text-anchor="middle" fill="#222">2</text>
<text x="432.33" y="377.3" font-size="5.1" text-anchor="middle" fill="#222">13</text>
<line x1="441.86" y1="334.1" x2="441.86" y2="337.6" stroke="#141414" stroke-width="1.1"/>
<text transform="translate(444.76,343.4) rotate(-45)" font-size="5" text-anchor="end" fill="#222">84</text>
<text x="441.86" y="371.4" font-size="5.1" text-anchor="middle" fill="#222">1</text>
<text x="441.86" y="377.3" font-size="5.1" text-anchor="middle" fill="#222">9</text>
<line x1="451.39" y1="334.1" x2="451.39" y2="337.6" stroke="#141414" stroke-width="1.1"/>
<text transform="translate(454.29,343.4) rotate(-45)" font-size="5" text-anchor="end" fill="#222">90</text>
<text x="451.39" y="371.4" font-size="5.1" text-anchor="middle" fill="#222">0</text>
<text x="451.39" y="377.3" font-size="5.1" text-anchor="middle" fill="#222">4</text>
<line x1="460.93" y1="334.1" x2="460.93" y2="337.6" stroke="#141414" stroke-width="1.1"/>
<text transform="translate(463.83,343.4) rotate(-45)" font-size="5" text-anchor="end" fill="#222">96</text>
<text x="460.93" y="371.4" font-size="5.1" text-anchor="middle" fill="#222">0</text>
<text x="460.93" y="377.3" font-size="5.1" text-anchor="middle" fill="#222">4</text>
<line x1="470.46" y1="334.1" x2="470.46" y2="337.6" stroke="#141414" stroke-width="1.1"/>
<text transform="translate(473.36,343.4) rotate(-45)" font-size="5" text-anchor="end" fill="#222">102</text>
<text x="470.46" y="371.4" font-size="5.1" text-anchor="middle" fill="#222">0</text>
<text x="470.46" y="377.3" font-size="5.1" text-anchor="middle" fill="#222">4</text>
<line x1="479.99" y1="334.1" x2="479.99" y2="337.6" stroke="#141414" stroke-width="1.1"/>
<text transform="translate(482.89,343.4) rotate(-45)" font-size="5" text-anchor="end" fill="#222">108</text>
<text x="479.99" y="371.4" font-size="5.1" text-anchor="middle" fill="#222">0</text>
<text x="479.99" y="377.3" font-size="5.1" text-anchor="middle" fill="#222">4</text>
<line x1="489.53" y1="334.1" x2="489.53" y2="337.6" stroke="#141414" stroke-width="1.1"/>
<text transform="translate(492.43,343.4) rotate(-45)" font-size="5" text-anchor="end" fill="#222">114</text>
<text x="489.53" y="371.4" font-size="5.1" text-anchor="middle" fill="#222">0</text>
<text x="489.53" y="377.3" font-size="5.1" text-anchor="middle" fill="#222">2</text>
<line x1="499.06" y1="334.1" x2="499.06" y2="337.6" stroke="#141414" stroke-width="1.1"/>
<text transform="translate(501.96,343.4) rotate(-45)" font-size="5" text-anchor="end" fill="#222">120</text>
<text x="499.06" y="371.4" font-size="5.1" text-anchor="middle" fill="#222">0</text>
<text x="499.06" y="377.3" font-size="5.1" text-anchor="middle" fill="#222">2</text>
<line x1="508.59" y1="334.1" x2="508.59" y2="337.6" stroke="#141414" stroke-width="1.1"/>
<text transform="translate(511.49,343.4) rotate(-45)" font-size="5" text-anchor="end" fill="#222">126</text>
<text x="508.59" y="371.4" font-size="5.1" text-anchor="middle" fill="#222">0</text>
<text x="508.59" y="377.3" font-size="5.1" text-anchor="middle" fill="#222">0</text>
<text x="301.8" y="365.0" font-size="5.1" text-anchor="end" fill="#222">N at risk</text>
<text x="301.8" y="371.4" font-size="5.1" text-anchor="end" fill="#222">HDAC123</text>
<text x="301.8" y="377.3" font-size="5.1" text-anchor="end" fill="#222">HDAC135</text>
<text transform="translate(408.55,357.8) scale(0.72,1)" font-size="6.95" text-anchor="middle" class="t">Time (months)</text>
<text transform="translate(284,272.8) rotate(-90) scale(0.70,1)" font-size="6.9" text-anchor="middle" class="t">Relapse free survival</text>
<line x1="469" y1="315.5" x2="482.8" y2="315.5" stroke="#b81e4a" stroke-width="1"/>
<line x1="469" y1="326.2" x2="482.8" y2="326.2" stroke="#2f5496" stroke-width="1.3" stroke-dasharray="3.2 1.6"/>
<text x="485.4" y="317.3" font-size="5.2" fill="#222">HDAC123</text>
<text x="485.4" y="327.8" font-size="5.2" fill="#222">HDAC135</text>
<path d="M308.6,214.3 L320.5,214.3 L320.5,217.4 L325.4,217.4 L325.4,221 L327,221 L327,224.5 L327,224.5 L327,228 L327,228 L327,231.3 L330.4,231.3 L330.4,235.3 L332.4,235.3 L332.4,239 L332.4,239 L332.4,242.7 L334.3,242.7 L334.3,246.7 L353.3,246.7 L353.3,250.2 L446.1,250.2" fill="none" stroke="#b81e4a" stroke-width="1"/>
<path d="M308.6,214.3 L311,214.3 L311,216.5 L314.5,216.5 L314.5,219.5 L314.5,219.5 L314.5,222.6 L320.5,222.6 L320.5,225.3 L320.5,225.3 L320.5,228 L324,228 L324,231.4 L327,231.4 L327,234.4 L330,234.4 L330,237.3 L333,237.3 L333,239.8 L504,239.8" fill="none" stroke="#2f5496" stroke-width="1.1" stroke-dasharray="3 2"/>
<rect x="0.5" y="0.5" width="519" height="383" fill="none" stroke="#000" stroke-width="1"/>
</svg>
</body></html>
